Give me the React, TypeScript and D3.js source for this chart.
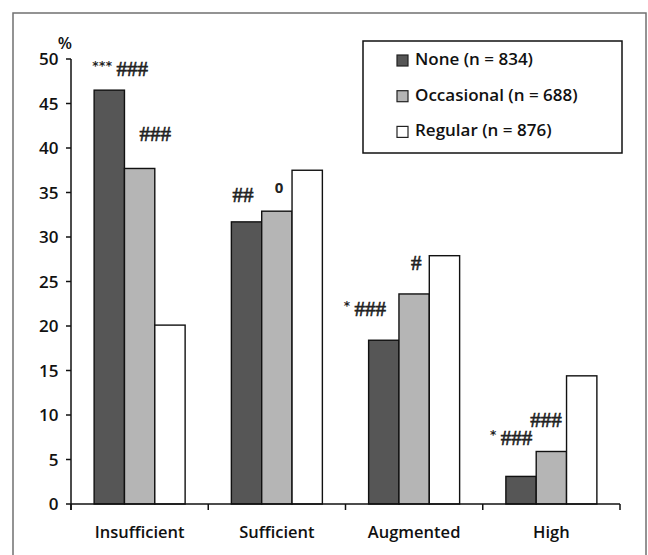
import React from "react";
import * as d3 from "d3";

const categories = ["Insufficient", "Sufficient", "Augmented", "High"];
const seriesNames = ["None (n = 834)", "Occasional (n = 688)", "Regular (n = 876)"];
const noneValues = [46.5, 31.7, 18.4, 3.1];
const occasionalValues = [37.7, 32.9, 23.6, 5.9];
const regularValues = [20.1, 37.5, 27.9, 14.4];
const yTicks = [0, 5, 10, 15, 20, 25, 30, 35, 40, 45, 50];

// annotations: [category index, series index, stars, hashes]
const annotations: [number, number, string, string][] = [
  [0, 0, "***", "###"],
  [0, 1, "", "###"],
  [1, 0, "", "##"],
  [1, 1, "0", ""],
  [2, 1, "", "#"],
  [2, 0, "*", "###"],
  [3, 0, "*", "###"],
  [3, 1, "", "###"],
];
// layout offsets for annotations (dx from bar left, dy from bar top)
const annotationOffsets: [number, number][] = [
  [-2, -14],
  [15, -27],
  [1, -20],
  [13, -18],
  [12, -24],
  [-25, -24],
  [-16, -31],
  [-6, -24],
];

const W = 648;
const H = 555;
const margin = { left: 71, right: 28, top: 59, bottom: 51 };
const colors = ["#565656", "#b5b5b5", "#ffffff"];
const sans = "'Open Sans', 'DejaVu Sans', sans-serif";
const serif = "'Liberation Serif', 'DejaVu Serif', serif";

export default function App() {
  const series = [noneValues, occasionalValues, regularValues];
  const x0 = d3
    .scaleBand<string>()
    .domain(categories)
    .range([margin.left, W - margin.right])
    .paddingInner(0)
    .paddingOuter(0);
  const groupW = 91;
  const x1 = d3
    .scaleBand<number>()
    .domain([0, 1, 2])
    .range([0, groupW])
    .padding(0);
  const y = d3.scaleLinear().domain([0, 50]).range([H - margin.bottom, margin.top]);
  const groupOffset = (x0.bandwidth() - groupW) / 2;
  const barX = (ci: number, si: number) => (x0(categories[ci]) as number) + groupOffset + (x1(si) as number);
  const y0 = y(0);
  const tickXs = [...categories.map((c) => x0(c) as number), W - margin.right];

  return (
    <svg width={W} height={H} style={{ position: "absolute", left: 0, top: 0, background: "#fff" }}>
      <rect x={13} y={13} width={633} height={600} fill="#fff" stroke="#707070" strokeWidth={1.5} />
      {/* bars */}
      {series.map((vals, si) =>
        vals.map((v, ci) => (
          <rect
            key={`${si}-${ci}`}
            x={barX(ci, si)}
            y={y(v)}
            width={x1.bandwidth()}
            height={y0 - y(v)}
            fill={colors[si]}
            stroke="#111"
            strokeWidth={1.4}
          />
        ))
      )}
      {/* y axis */}
      <line x1={margin.left} x2={margin.left} y1={y(50)} y2={y0 + 6} stroke="#111" strokeWidth={1.5} />
      {yTicks.map((t) => (
        <g key={t}>
          <line x1={margin.left - 5} x2={margin.left} y1={y(t)} y2={y(t)} stroke="#111" strokeWidth={1.5} />
          <text
            x={margin.left - 12.5}
            y={y(t)}
            dy="0.36em"
            textAnchor="end"
            fontFamily={sans}
            fontWeight={600}
            fontSize={17}
            fill="#111"
          >
            {t}
          </text>
        </g>
      ))}
      <text x={65} y={48.5} textAnchor="middle" fontFamily={sans} fontWeight={600} fontSize={16.5} fill="#111">
        %
      </text>
      {/* x axis */}
      <line x1={margin.left} x2={W - margin.right} y1={y0} y2={y0} stroke="#111" strokeWidth={1.5} />
      {tickXs.map((tx, i) => (
        <line key={i} x1={tx} x2={tx} y1={y0} y2={y0 + 6} stroke="#111" strokeWidth={1.5} />
      ))}
      {categories.map((c) => (
        <text
          key={c}
          x={(x0(c) as number) + x0.bandwidth() / 2}
          y={538}
          textAnchor="middle"
          fontFamily={sans}
          fontWeight={600}
          fontSize={16.5}
          fill="#111"
        >
          {c}
        </text>
      ))}
      {/* annotations */}
      {annotations.map(([ci, si, stars, hashes], i) => {
        const [dx, dy] = annotationOffsets[i];
        const vals = series[si];
        const ax = barX(ci, si) + dx;
        const ay = y(vals[ci]) + dy;
        const isZero = stars === "0";
        return (
          <text key={i} x={ax} y={ay} fill="#222">
            {stars && (
              <tspan
                fontFamily={isZero ? sans : "'DejaVu Sans', sans-serif"}
                fontWeight={700}
                fontSize={isZero ? 15 : 12}
                letterSpacing={isZero ? 0 : 0.5}
                dy={isZero ? 0 : -6}
              >
                {stars}
              </tspan>
            )}
            {hashes && (
              <tspan
                fontFamily={serif}
                fontSize={21}
                fontWeight={400}
                dx={stars ? 4 : 0}
                dy={stars && !isZero ? 6 : 0}
                stroke="#222"
                strokeWidth={0.6}
              >
                {hashes}
              </tspan>
            )}
          </text>
        );
      })}
      {/* legend */}
      <rect x={363} y={41} width={259} height={112} fill="#fff" stroke="#111" strokeWidth={1.5} />
      {seriesNames.map((n, i) => (
        <g key={n}>
          <rect x={397} y={55 + i * 35.7} width={11} height={11} fill={colors[i]} stroke="#222" strokeWidth={1.2} />
          <text x={415} y={65 + i * 35.7} fontFamily={sans} fontWeight={600} fontSize={17} fill="#111">
            {n}
          </text>
        </g>
      ))}
    </svg>
  );
}
